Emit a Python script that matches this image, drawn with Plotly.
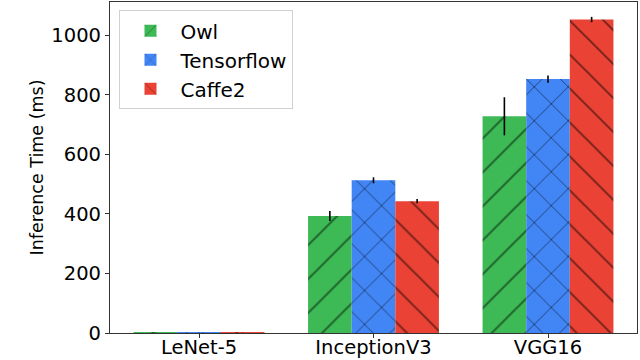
import plotly.graph_objects as go

categories = ["LeNet-5", "InceptionV3", "VGG16"]
owl = [2, 393, 728]
owl_err = [0.5, 17, 64]
tensorflow = [2, 513, 853]
tensorflow_err = [0.5, 10, 12]
caffe2 = [2, 443, 1053]
caffe2_err = [0.5, 7, 9]

series = [
    ("Owl", owl, owl_err, "#3dba55", "/"),
    ("Tensorflow", tensorflow, tensorflow_err, "#4285f4", "x"),
    ("Caffe2", caffe2, caffe2_err, "#ea4335", "\\"),
]

fig = go.Figure()
for name, vals, errs, color, shape in series:
    fig.add_trace(go.Bar(
        name=name, x=categories, y=vals, hoverinfo="skip",
        marker=dict(color=color, line=dict(width=0),
                    pattern=dict(shape=shape, fgcolor="black", bgcolor=color,
                                 size=24, solidity=0.08, fillmode="overlay")),
        error_y=dict(type="data", array=errs, visible=True, color="black",
                     thickness=1.6, width=0),
    ))

font = "DejaVu Sans, Verdana, sans-serif"
fig.update_layout(
    width=640, height=360,
    margin=dict(l=110, r=3, t=2, b=27),
    barmode="group", bargap=0.25, bargroupgap=0,
    plot_bgcolor="white", paper_bgcolor="white",
    font=dict(family=font, size=19.5, color="black"),
    legend=dict(x=0.018, y=0.975, xanchor="left", yanchor="top",
                bgcolor="white", bordercolor="#d0d0d0", borderwidth=1,
                font=dict(size=20), itemwidth=50, tracegroupgap=0),
    xaxis=dict(range=[-0.51, 2.51], showline=True, linecolor="#333", linewidth=1.2,
               mirror=True, ticks="outside", ticklen=4, tickcolor="#333",
               tickfont=dict(size=19.5), showgrid=False, automargin=False,
               ticklabelstandoff=-8, fixedrange=True),
    yaxis=dict(range=[0, 1112], showline=True, linecolor="#333", linewidth=1.2,
               mirror=True, ticks="outside", ticklen=4, tickcolor="#333",
               tickvals=[0, 200, 400, 600, 800, 1000], tickfont=dict(size=19.5),
               showgrid=False, zeroline=False, automargin=False, fixedrange=True,
               title=dict(text="Inference Time (ms)", font=dict(size=17.5), standoff=3)),
)
fig.write_html("out.html", config={"displayModeBar": False},
               post_script="document.body.style.margin='0';document.body.style.overflow='hidden';")
